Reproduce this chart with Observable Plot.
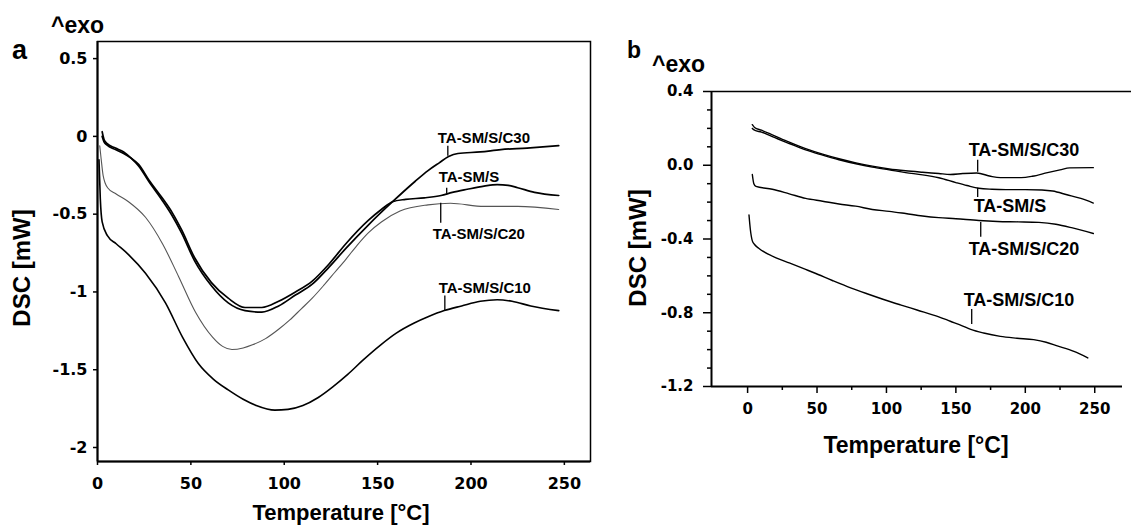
<!DOCTYPE html>
<html><head><meta charset="utf-8">
<script src="https://cdn.jsdelivr.net/npm/d3@7"></script>
<script src="https://cdn.jsdelivr.net/npm/@observablehq/plot@0.6"></script>
<style>
html,body{margin:0;padding:0;background:#fff;}
#wrap{position:relative;width:1131px;height:528px;overflow:hidden;font-family:Arial,"Liberation Sans",sans-serif;font-weight:bold;color:#000;background:#fff;}
#wrap svg{position:absolute;top:0;}
.t{position:absolute;white-space:nowrap;line-height:1;}
</style></head><body><div id="wrap"></div>
<script>
// ---------- Panel a data: [Temperature °C, DSC mW] ----------
const aC30 = [[2.5,0.03],[3.5,-0.02],[5,-0.045],[9.6,-0.075],[14,-0.10],[18,-0.14],[22,-0.19],[27.5,-0.29],[34.6,-0.41],[40,-0.51],[45,-0.62],[52,-0.80],[61,-0.96],[70,-1.07],[79,-1.12],[88,-1.13],[97,-1.09],[106,-1.02],[115,-0.95],[124,-0.84],[133,-0.72],[145,-0.57],[158,-0.42],[170,-0.29],[177,-0.22],[183,-0.17],[188,-0.13],[193,-0.11],[205,-0.10],[216,-0.085],[230,-0.075],[247,-0.06]];
const aS = [[2.5,0.0],[3.5,-0.035],[5,-0.055],[9.6,-0.085],[14,-0.11],[18,-0.14],[22,-0.18],[27.5,-0.28],[34.6,-0.395],[40,-0.49],[45,-0.60],[52,-0.78],[61,-0.94],[70,-1.04],[79,-1.10],[88,-1.10],[97,-1.06],[106,-1.00],[115,-0.93],[124,-0.82],[133,-0.69],[145,-0.54],[152,-0.47],[158,-0.42],[165,-0.405],[175,-0.395],[184,-0.38],[190,-0.36],[198,-0.34],[207,-0.32],[214,-0.31],[220,-0.315],[225,-0.33],[234,-0.36],[247,-0.38]];
const aC20 = [[1.2,-0.06],[2,-0.15],[3,-0.25],[5.4,-0.33],[10,-0.37],[16.6,-0.42],[25.7,-0.52],[34.8,-0.69],[43.4,-0.90],[52.5,-1.13],[61.6,-1.29],[67,-1.35],[72,-1.37],[78,-1.36],[83,-1.34],[90,-1.30],[97,-1.24],[103,-1.18],[109,-1.11],[115,-1.04],[121,-0.96],[127,-0.875],[133,-0.79],[139,-0.70],[145,-0.62],[152,-0.55],[162,-0.48],[177,-0.44],[189,-0.43],[207,-0.45],[225,-0.45],[247,-0.47]];
const aC10 = [[0.8,-0.15],[1.5,-0.40],[2.5,-0.55],[5.4,-0.64],[10,-0.69],[16.6,-0.76],[25.7,-0.88],[36.4,-1.07],[45.5,-1.29],[54,-1.46],[62,-1.56],[70,-1.63],[78,-1.69],[85,-1.73],[95,-1.76],[102,-1.755],[110,-1.73],[118,-1.68],[126,-1.61],[134,-1.53],[142,-1.44],[151.7,-1.34],[160,-1.265],[169.6,-1.20],[177,-1.16],[185.7,-1.12],[195,-1.09],[205,-1.06],[214,-1.05],[222,-1.06],[232,-1.09],[247,-1.12]];

const aXTicks = [0, 50, 100, 150, 200, 250];
const aYTicks = [0.5, 0, -0.5, -1, -1.5, -2];

const aLabels = ["TA-SM/S/C30", "TA-SM/S", "TA-SM/S/C20", "TA-SM/S/C10"];
const aLabelT = [182.2, 182.7, 179.5, 182.7];
const aLabelV = [-0.045, -0.29, -0.59, -1.006];
const aLabelAnchor = ["bottom", "bottom", "top", "bottom"];
const aTickT = [187.6, 187, 183.8, 186];
const aTickV1 = [-0.064, -0.333, -0.43, -1.026];
const aTickV2 = [-0.128, -0.372, -0.558, -1.12];

// ---------- Panel b data ----------
const bC30 = [[3.4,0.22],[5,0.205],[10,0.19],[17.8,0.165],[30,0.125],[41.8,0.09],[54,0.06],[65.8,0.035],[78,0.013],[89.8,-0.005],[102,-0.02],[113.8,-0.03],[126,-0.038],[137.7,-0.045],[146,-0.05],[155,-0.045],[165,-0.042],[175,-0.06],[182,-0.067],[197,-0.067],[205,-0.06],[216,-0.04],[225,-0.025],[232,-0.014],[249,-0.013]];
const bS = [[3.4,0.20],[5,0.19],[10,0.18],[17.8,0.155],[30,0.118],[41.8,0.083],[54,0.055],[65.8,0.03],[78,0.008],[89.8,-0.01],[102,-0.025],[113.8,-0.04],[126,-0.052],[137.7,-0.068],[150,-0.094],[158,-0.11],[166.5,-0.125],[176,-0.13],[186,-0.132],[200,-0.132],[212,-0.134],[219.7,-0.14],[230,-0.16],[240,-0.18],[249,-0.205]];
const bC20 = [[3.4,-0.05],[4.5,-0.10],[6,-0.115],[17.8,-0.13],[30,-0.155],[41.8,-0.18],[54,-0.195],[65.8,-0.21],[77.8,-0.222],[89.8,-0.24],[102,-0.25],[113.8,-0.262],[126,-0.275],[137.7,-0.284],[150,-0.29],[166.5,-0.30],[180,-0.305],[195,-0.307],[209.8,-0.31],[222,-0.32],[234,-0.34],[249,-0.37]];
const bC10 = [[1,-0.27],[2,-0.35],[3.4,-0.41],[5,-0.43],[8,-0.45],[21.4,-0.505],[30,-0.53],[41.8,-0.565],[47.8,-0.583],[61,-0.625],[74.2,-0.665],[86,-0.697],[98,-0.728],[110,-0.757],[122,-0.785],[137.7,-0.822],[146,-0.846],[155,-0.872],[160.7,-0.89],[170,-0.91],[182,-0.928],[194,-0.938],[206,-0.946],[215,-0.96],[223,-0.98],[235,-1.01],[245,-1.045]];

const bXTicks = [0, 50, 100, 150, 200, 250];
const bXMinor = [25, 75, 125, 175, 225];
const bYTicks = [0.4, 0, -0.4, -0.8, -1.2];
const bYMinor = [0.3, 0.2, 0.1, -0.1, -0.2, -0.3, -0.5, -0.6, -0.7, -0.9, -1.0, -1.1];

const bLabels = ["TA-SM/S/C30", "TA-SM/S", "TA-SM/S/C20", "TA-SM/S/C10"];
const bLabelT = [159.2, 162.8, 159.2, 155.6];
const bLabelV = [0.049, -0.185, -0.418, -0.766];
const bLabelAnchor = ["bottom", "top", "top", "bottom"];
const bTickT = [165.7, 165.7, 167.9, 161.4];
const bTickV1 = [0.027, -0.125, -0.31, -0.783];
const bTickV2 = [-0.038, -0.175, -0.39, -0.864];

// ---------- helpers ----------
const tickFont = {fontFamily: "DejaVu Sans", fontWeight: "bold"};
const labFont = {fontFamily: "Arial, 'Liberation Sans', sans-serif", fontWeight: "bold"};
const ln = (data, opts) => Plot.line(data, {x: d => d[0], y: d => d[1], curve: "monotone-x", stroke: "#000", strokeLinejoin: "round", ...opts});
function labelMarks(labels, T, V, anchors, tT, tV1, tV2, size) {
  const idx = labels.map((_, i) => i);
  return [
    Plot.ruleX(idx, {x: i => tT[i], y1: i => tV1[i], y2: i => tV2[i], stroke: "#000", strokeWidth: 1.3}),
    Plot.text(idx.filter(i => anchors[i] === "bottom"), {x: i => T[i], y: i => V[i], text: i => labels[i], textAnchor: "start", lineAnchor: "bottom", fontSize: size, ...labFont, fill: "#000"}),
    Plot.text(idx.filter(i => anchors[i] === "top"), {x: i => T[i], y: i => V[i], text: i => labels[i], textAnchor: "start", lineAnchor: "top", fontSize: size, ...labFont, fill: "#000"})
  ];
}

const svgStyle = "background:transparent;overflow:visible;font-family:'DejaVu Sans';";

// ---------- Panel a ----------
const A = Plot.plot({
  width: 620, height: 528,
  marginLeft: 97, marginTop: 41, marginRight: 30, marginBottom: 67,
  x: {domain: [0, 264]},
  y: {domain: [-2.09, 0.61]},
  style: svgStyle,
  marks: [
    Plot.frame({stroke: "#000", strokeWidth: 1.5}),
    Plot.axisX(aXTicks, {tickSize: 4, tickPadding: 12, label: null, tickFormat: d => String(d), fontSize: 16, ...tickFont, strokeWidth: 1.5}),
    Plot.axisY(aYTicks, {tickSize: 4, tickPadding: 6, label: null, tickFormat: d => String(d), fontSize: 16, ...tickFont, strokeWidth: 1.5}),
    Plot.ruleX([0], {stroke: "#000", strokeWidth: 2}),
    Plot.ruleY([-2.09], {stroke: "#000", strokeWidth: 2}),
    ln(aC20, {stroke: "#555", strokeWidth: 1.1}),
    ln(aC10, {strokeWidth: 1.6}),
    ln(aS, {strokeWidth: 1.7}),
    ln(aC30, {strokeWidth: 1.7}),
    ...labelMarks(aLabels, aLabelT, aLabelV, aLabelAnchor, aTickT, aTickV1, aTickV2, 15)
  ]
});

// ---------- Panel b ----------
const B = Plot.plot({
  width: 531, height: 528,
  marginLeft: 111, marginTop: 91, marginRight: 9, marginBottom: 142,
  x: {domain: [-26, 270]},
  y: {domain: [-1.2, 0.4]},
  style: svgStyle,
  marks: [
    Plot.axisX(bXTicks, {tickSize: 7, tickPadding: 10, label: null, tickFormat: d => String(d), fontSize: 15, ...tickFont, strokeWidth: 1.5}),
    Plot.axisX(bXMinor, {tickSize: 4, tickFormat: () => "", label: null, strokeWidth: 1.5}),
    Plot.axisY(bYTicks, {tickSize: 8, tickPadding: 10, label: null, tickFormat: d => d.toFixed(1), fontSize: 15, ...tickFont, strokeWidth: 1.5}),
    Plot.axisY(bYMinor, {tickSize: 4, tickFormat: () => "", label: null, strokeWidth: 1.5}),
    Plot.ruleX([-26], {stroke: "#000", strokeWidth: 2}),
    Plot.ruleY([-1.2], {stroke: "#000", strokeWidth: 2}),
    Plot.ruleY([0.4], {x1: -26, x2: 276.5, stroke: "#000", strokeWidth: 1.5}),
    ln(bC10, {strokeWidth: 1.4}),
    ln(bC20, {strokeWidth: 1.4}),
    ln(bS, {strokeWidth: 1.4}),
    ln(bC30, {strokeWidth: 1.4}),
    ...labelMarks(bLabels, bLabelT, bLabelV, bLabelAnchor, bTickT, bTickV1, bTickV2, 18)
  ]
});

const wrap = document.getElementById("wrap");
A.style.left = "0px";
B.style.left = "600px";
wrap.appendChild(A);
wrap.appendChild(B);

// ---------- panel letters and axis titles ----------
function addText(txt, size, css) {
  const d = document.createElement("div");
  d.className = "t";
  d.textContent = txt;
  d.style.fontSize = size + "px";
  Object.assign(d.style, css);
  wrap.appendChild(d);
}
addText("a", 27, {left: "12px", top: "37px"});
addText("^exo", 23, {left: "51px", top: "13.5px"});
addText("b", 23, {left: "627px", top: "38.5px"});
addText("^exo", 23, {left: "652px", top: "52.5px"});
addText("Temperature [°C]", 22, {left: "341px", top: "502px", transform: "translateX(-50%)"});
addText("Temperature [°C]", 23, {left: "916px", top: "433.5px", transform: "translateX(-50%)"});
addText("DSC [mW]", 24, {left: "22px", top: "268px", transform: "translate(-50%,-50%) rotate(-90deg)"});
addText("DSC [mW]", 24, {left: "638px", top: "248px", transform: "translate(-50%,-50%) rotate(-90deg)"});
</script></body></html>
